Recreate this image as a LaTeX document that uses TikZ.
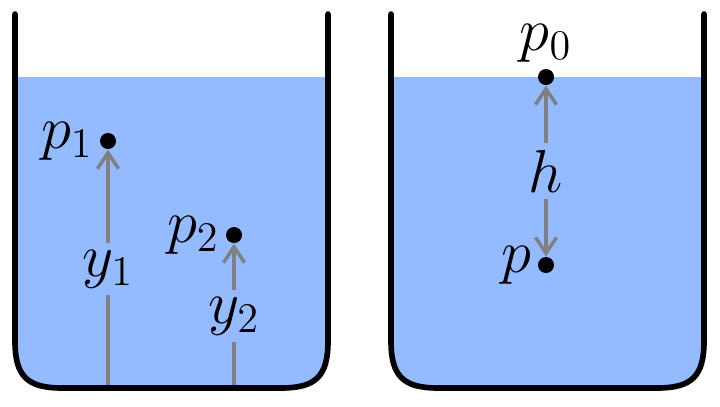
\documentclass[tikz,border=0pt]{standalone}
\usepackage{amsmath}
\usepackage{tikz}
\usetikzlibrary{arrows.meta}
\definecolor{water}{RGB}{148,186,255}

\begin{document}
\begin{tikzpicture}[
  wall/.style={line width=1.6pt, line cap=round},
  dot/.style={circle, fill=black, inner sep=0pt, minimum size=0.16cm},
  ruler/.style={gray, line width=1pt},
  lbl/.style={fill=water, text=black, inner sep=2pt},
  every label/.style={inner sep=1.5pt},
  >={Straight Barb[length=4.5pt,width=6pt]},
]

  \LARGE

  \newcommand\W{3.13}
  \newcommand\Top{3.92}
  \newcommand\Lvl{3.29}

  \useasboundingbox (0,0) rectangle (7.2,4.06);

  %% water in both beakers
  \foreach \x in {0.15, 3.91} {
    \fill[water] (\x,\Lvl) -- (\x,0.65) .. controls (\x,0.3) and (\x+0.12,0.18) .. (\x+0.47,0.18)
      -- (\x+\W-0.47,0.18) .. controls (\x+\W-0.12,0.18) and (\x+\W,0.3) .. (\x+\W,0.65)
      -- (\x+\W,\Lvl) -- cycle;
  }

  %% points
  \node[dot, label=left:$p_1$] (p1) at (1.08,2.65) {};
  \node[dot, label=left:$p_2$] (p2) at (2.34,1.71) {};
  \node[dot, label=above:$p_0$] (p0) at (5.46,\Lvl) {};
  \node[dot, label=left:$p$] (p) at (5.46,1.41) {};

  \coordinate (b1) at (1.08,0.18);
  \coordinate (b2) at (2.34,0.18);

  %% heights
  \draw[ruler,->] (b1) -- node[lbl]{$y_1$} (p1);
  \draw[ruler,->] (b2) -- node[lbl]{$y_2$} (p2);
  \draw[ruler,<->] (p) -- node[lbl]{$h$} (p0);

  %% beaker walls
  \foreach \x in {0.15, 3.91} {
    \draw[wall] (\x,\Top) -- (\x,0.65) .. controls (\x,0.3) and (\x+0.12,0.18) .. (\x+0.47,0.18)
      -- (\x+\W-0.47,0.18) .. controls (\x+\W-0.12,0.18) and (\x+\W,0.3) .. (\x+\W,0.65)
      -- (\x+\W,\Top);
  }

\end{tikzpicture}
\end{document}
